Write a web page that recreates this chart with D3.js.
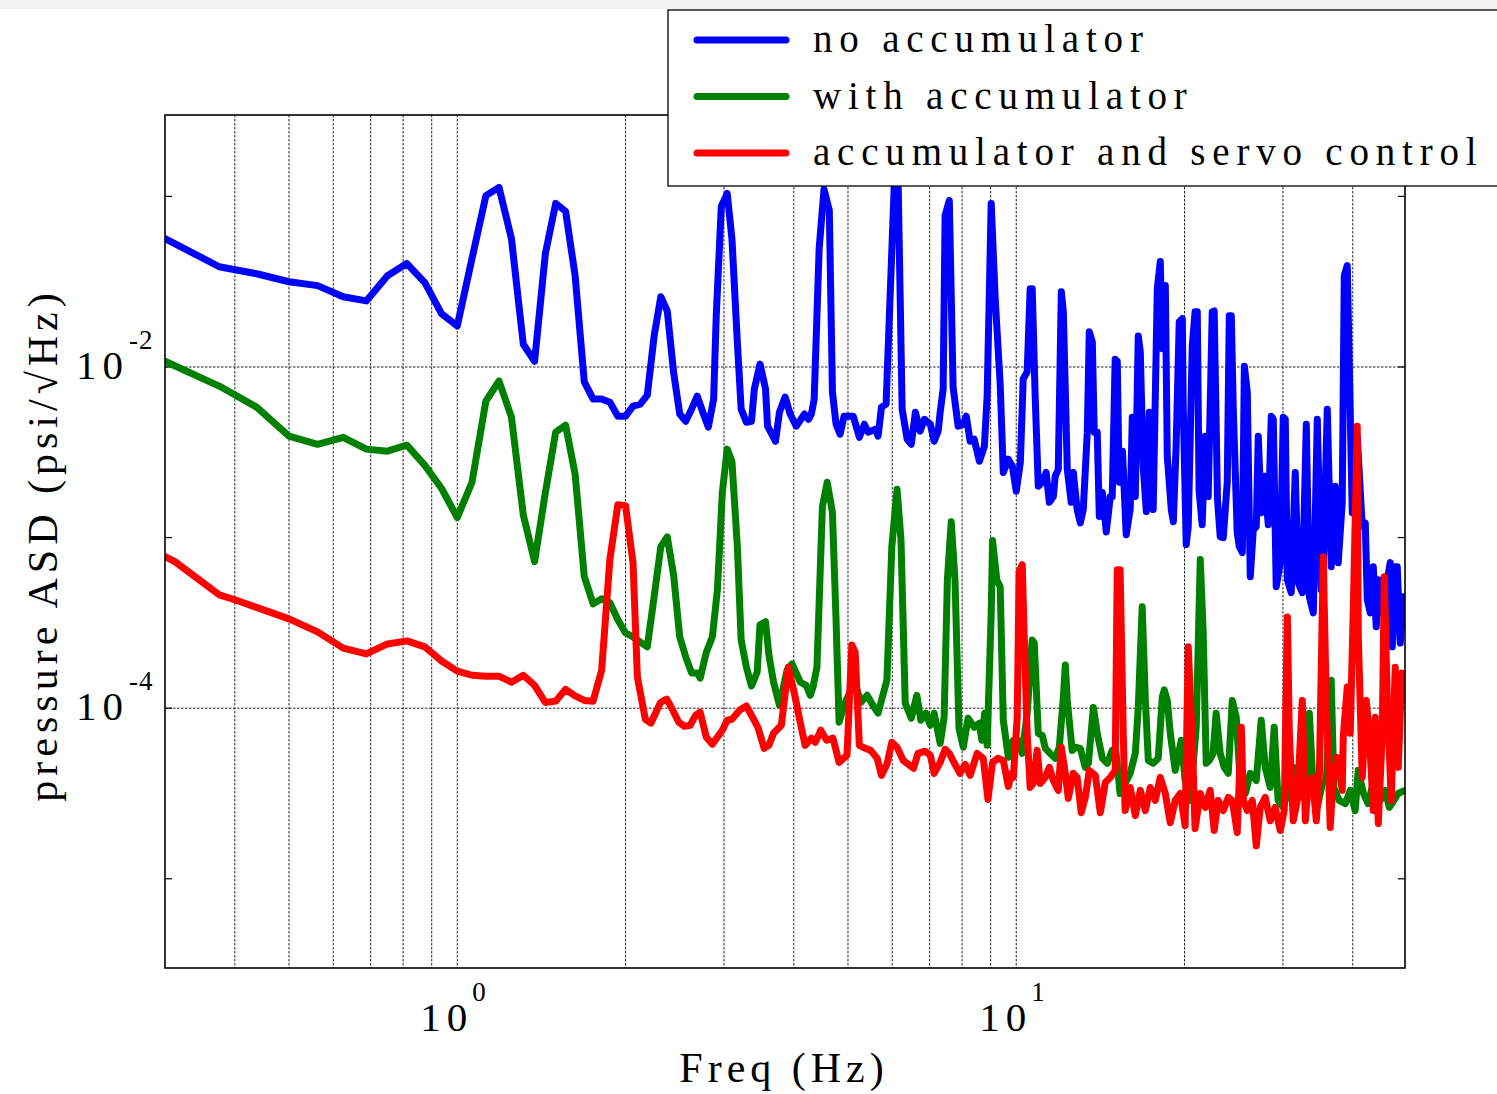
<!DOCTYPE html>
<html><head><meta charset="utf-8">
<script src="https://cdn.jsdelivr.net/npm/d3@7"></script>
<style>body{margin:0;background:#fff}svg{display:block}</style>
</head><body><svg id="c" width="1497" height="1094"></svg>
<script>
const seriesNames = ["no accumulator", "with accumulator", "accumulator and servo control"];
const seriesColors = ["#0000ff", "#008000", "#ff0000"];

const blueFreq = [
0.3,0.375,0.4375,0.5,0.5625,0.625,0.6875,0.75,0.8125,0.875,
0.9375,1.0,1.0625,1.125,1.1875,1.25,1.3125,1.375,1.4375,1.5,
1.5625,1.625,1.6875,1.75,1.8125,1.875,1.9375,2.0,2.0625,2.125,
2.1875,2.25,2.3125,2.375,2.4375,2.5,2.5625,2.625,2.6875,2.75,
2.8125,2.875,2.906,2.967,3.04,3.10,3.17,3.22,3.29,3.36,
3.40,3.48,3.56,3.59,3.71,3.77,3.86,3.94,4.04,4.18,
4.25,4.30,4.35,4.44,4.53,4.63,4.69,4.76,4.84,4.92,
5.11,5.24,5.35,5.43,5.60,5.66,5.74,5.85,5.93,6.05,
6.15,6.25,6.38,6.49,6.60,6.73,6.85,7.02,7.13,7.25,
7.31,7.40,7.46,7.59,7.71,7.87,8.04,8.14,8.27,8.41,
8.59,8.77,8.87,9.02,9.17,9.36,9.48,9.68,9.84,10.0,
10.17,10.29,10.46,10.59,10.68,10.81,10.95,11.13,11.31,11.46,
11.65,11.74,11.89,12.04,12.14,12.34,12.54,12.65,12.85,13.02,
13.18,13.40,13.51,13.68,13.79,13.96,14.08,14.26,14.49,14.73,
14.85,15.03,15.16,15.28,15.49,15.73,15.99,16.13,16.33,16.53,
16.67,16.87,17.09,17.30,17.58,17.88,18.10,18.25,18.48,18.63,
18.94,19.10,19.32,19.57,19.82,19.90,20.14,20.31,20.65,20.89,
21.08,21.24,21.51,21.78,22.05,22.42,22.60,22.91,23.17,23.46,
23.85,24.05,24.25,24.45,24.85,25.06,25.38,25.59,25.90,26.22,
26.55,26.88,27.10,27.43,27.78,28.24,28.59,28.83,29.18,29.67,
30.04,30.29,30.55,31.04,31.56,31.96,32.49,33.03,33.44,34.0,
34.56,35.13,35.42,36.01,36.60,37.21,37.67,38.30,38.62,39.10,
39.58,39.91,40.74,41.59,42.11,42.46,42.99,43.52,44.06,44.43,
45.17,46.11,46.68,47.07,47.64,48.04,48.64,49.23,49.6];
const blueAsd = [
0.0566,0.0387,0.0352,0.0316,0.0300,0.0258,0.0244,0.0343,0.0404,0.0312,
0.0205,0.0174,0.0432,0.101,0.113,0.0566,0.0136,0.0108,0.0462,0.091,
0.0817,0.0343,0.00817,0.00649,0.00649,0.00622,0.00515,0.00515,0.0059,0.00606,
0.00684,0.0152,0.0258,0.0213,0.00935,0.0053,0.00481,0.00566,0.00675,0.00543,
0.00444,0.00649,0.020,0.0873,0.104,0.0566,0.0140,0.00566,0.00474,0.00481,
0.00743,0.0104,0.00743,0.0045,0.00367,0.00543,0.00667,0.0053,0.0045,0.0053,
0.00494,0.0053,0.00649,0.0494,0.110,0.0828,0.00713,0.00462,0.00404,0.00515,
0.00515,0.00387,0.00462,0.00415,0.00432,0.00393,0.00582,0.00606,0.020,0.116,
0.113,0.00566,0.00377,0.00352,0.00543,0.00421,0.00494,0.00462,0.00367,0.00421,
0.00543,0.00743,0.0773,0.0947,0.00763,0.0045,0.00462,0.00515,0.00367,0.00377,
0.0028,0.00343,0.00675,0.091,0.0251,0.00794,0.00241,0.00288,0.00262,0.00187,
0.00276,0.0085,0.00935,0.0288,0.0288,0.00675,0.0020,0.00211,0.00241,0.00161,
0.00174,0.00229,0.00251,0.0276,0.0211,0.00251,0.00161,0.00241,0.00146,0.00122,
0.00146,0.00415,0.0161,0.0140,0.00415,0.00415,0.00133,0.00184,0.00108,0.00174,
0.00174,0.0111,0.0108,0.00211,0.00321,0.00104,0.00146,0.00508,0.00174,0.0152,
0.0122,0.00262,0.00142,0.00543,0.00146,0.0288,0.0415,0.0128,0.030,0.0030,
0.00146,0.00124,0.00343,0.0184,0.0192,0.00566,0.00091,0.00116,0.0133,0.0211,
0.0211,0.00187,0.00119,0.00393,0.00174,0.0211,0.0213,0.00167,0.00101,0.0010,
0.00211,0.020,0.020,0.00566,0.00107,0.000885,0.000817,0.0101,0.00713,0.00059,
0.00111,0.00116,0.00393,0.0014,0.00229,0.00119,0.00515,0.00494,0.000515,0.000713,
0.00508,0.00494,0.000566,0.000475,0.00241,0.000543,0.000475,0.00462,0.00045,0.000362,
0.00494,0.000494,0.000675,0.00566,0.000675,0.0020,0.000713,0.00161,0.0343,0.0393,
0.00543,0.0014,0.00393,0.00116,0.00122,0.000432,0.000362,0.000675,0.0003,0.000566,
0.000362,0.000566,0.000713,0.000229,0.000675,0.000675,0.000241,0.00045,0.000362];

const greenFreq = [
0.3,0.375,0.4375,0.5,0.5625,0.625,0.6875,0.75,0.8125,0.875,
0.9375,1.0,1.0625,1.125,1.1875,1.25,1.3125,1.375,1.4375,1.5,
1.5625,1.625,1.6875,1.75,1.8125,1.875,1.9375,2.0,2.0625,2.125,
2.1875,2.25,2.3125,2.375,2.4375,2.5,2.5625,2.625,2.6875,2.72,
2.79,2.86,2.92,2.98,3.04,3.10,3.17,3.22,3.29,3.36,
3.44,3.48,3.56,3.61,3.68,3.77,3.89,3.97,4.11,4.21,
4.28,4.33,4.40,4.50,4.59,4.69,4.76,4.82,4.92,5.04,
5.15,5.27,5.41,5.54,5.66,5.74,5.87,5.99,6.12,6.22,
6.33,6.49,6.64,6.75,6.89,7.02,7.13,7.31,7.43,7.53,
7.65,7.77,7.90,8.04,8.20,8.41,8.59,8.68,8.78,8.87,
9.02,9.07,9.23,9.36,9.48,9.68,9.88,10.08,10.25,10.46,
10.68,10.77,10.95,11.13,11.27,11.50,11.74,11.94,12.14,12.24,
12.34,12.59,12.80,13.02,13.29,13.46,13.74,13.96,14.26,14.55,
14.85,15.09,15.34,15.66,15.99,16.33,16.53,16.80,17.02,17.23,
17.58,17.95,18.25,18.40,18.63,18.86,19.25,19.74,20.05,20.47,
20.99,21.34,21.60,21.87,22.14,22.50,22.78,23.17,23.55,23.95,
24.35,24.75,25.17,25.70,26.22,26.88,27.43,27.89,28.47,28.94,
29.41,30.04,30.67,31.30,31.96,32.49,33.03,33.44,34.0,34.56,
35.28,35.86,36.60,37.0,37.8,38.8,39.58,40.4,40.9,41.8,
42.6,43.5,44.8,45.7,46.5,47.4,48.2,49.6];
const greenAsd = [
0.0108,0.00773,0.00582,0.00393,0.00352,0.00387,0.0033,0.00321,0.00348,0.00265,
0.00194,0.00131,0.00211,0.00631,0.00828,0.00508,0.00136,0.000723,0.00184,0.00415,
0.00456,0.00235,0.00059,0.000409,0.000438,0.000415,0.00033,0.000276,0.000262,0.000244,
0.000229,0.00045,0.000885,0.00101,0.000606,0.000262,0.0002,0.000161,0.000161,0.00015,
0.000213,0.000262,0.000494,0.00184,0.0033,0.0028,0.000885,0.000251,0.000174,0.000135,
0.000163,0.000308,0.000321,0.000205,0.000142,0.000104,0.000167,0.000182,0.000142,0.000136,
0.000119,0.000133,0.000174,0.00152,0.00211,0.0014,0.00033,0.0000828,0.000104,0.000124,
0.00014,0.000108,0.000119,0.000104,0.0000935,0.000111,0.000146,0.000885,0.00192,0.000973,
0.000107,0.0000873,0.000119,0.000085,0.0000935,0.0000794,0.0000935,0.0000622,0.0000885,0.000566,
0.00124,0.000566,0.0000762,0.000059,0.0000873,0.0000773,0.0000817,0.0000649,0.0000935,0.0000606,
0.000362,0.00096,0.000566,0.000515,0.000085,0.0000515,0.0000649,0.0000649,0.0000543,0.0000935,
0.000251,0.000241,0.0000713,0.0000694,0.0000582,0.0000543,0.0000508,0.000059,0.000116,0.000179,
0.000111,0.0000566,0.000059,0.0000582,0.000045,0.0000475,0.000101,0.0000713,0.0000508,0.0000475,
0.0000566,0.0000543,0.0000316,0.0000362,0.0000415,0.0000543,0.000101,0.000393,0.000111,0.0000494,
0.0000475,0.0000508,0.000116,0.000128,0.000111,0.0000713,0.0000432,0.0000649,0.0000377,0.0000288,
0.0000773,0.000743,0.000276,0.0000475,0.0000494,0.0000543,0.0000935,0.0000543,0.000045,0.0000415,
0.000111,0.0000885,0.0000362,0.0000316,0.0000415,0.0000377,0.000085,0.000045,0.0000343,0.0000773,
0.0000288,0.0000262,0.000033,0.000045,0.0000432,0.00003,0.0000393,0.0000935,0.000033,0.0000262,
0.0000362,0.0000377,0.000146,0.0000343,0.0000288,0.0000276,0.000033,0.0000251,0.0000432,0.0000316,
0.0000276,0.0000362,0.0000288,0.000033,0.0000262,0.0000288,0.0000316,0.000033];

const redFreq = [
0.3,0.3125,0.375,0.4,0.45,0.5,0.5625,0.625,0.6875,0.75,
0.8125,0.875,0.9375,1.0,1.0625,1.125,1.1875,1.25,1.3125,1.375,
1.4375,1.5,1.5625,1.625,1.6875,1.75,1.8125,1.875,1.9375,2.0,
2.0625,2.10,2.17,2.22,2.31,2.37,2.42,2.49,2.55,2.61,
2.67,2.72,2.79,2.86,2.98,3.04,3.10,3.20,3.29,3.36,
3.45,3.54,3.61,3.68,3.80,3.91,4.01,4.11,4.19,4.30,
4.37,4.47,4.58,4.70,4.82,4.98,5.08,5.15,5.24,5.37,
5.49,5.64,5.74,5.87,5.99,6.12,6.28,6.55,6.67,6.87,
7.02,7.13,7.31,7.46,7.59,7.77,7.93,8.10,8.27,8.51,
8.73,8.90,9.07,9.27,9.48,9.68,9.80,9.88,10.04,10.12,
10.25,10.33,10.46,10.59,10.72,10.90,11.04,11.27,11.46,11.65,
11.89,12.04,12.24,12.39,12.65,12.85,13.07,13.29,13.51,13.85,
14.14,14.43,14.73,15.03,15.16,15.34,15.54,15.66,15.99,16.33,
16.67,17.02,17.37,17.73,18.10,18.48,18.86,19.25,19.65,20.05,
20.31,20.65,20.89,21.34,21.78,22.23,22.60,22.97,23.46,23.95,
24.35,24.85,25.27,25.49,25.90,26.44,26.88,27.32,27.89,28.47,
29.06,29.67,30.16,30.55,30.80,31.30,31.83,32.49,32.90,33.30,
33.86,34.42,34.85,35.42,35.86,36.45,36.90,37.52,38.30,38.46,
39.10,39.58,40.08,40.74,40.91,41.59,42.28,42.81,43.52,43.88,
44.43,45.17,45.54,46.11,46.86,47.64,48.24,48.96,49.6];
const redAsd = [
0.000773,0.000723,0.000462,0.000432,0.000377,0.000334,0.00028,0.000225,0.000208,0.000238,
0.000248,0.000229,0.000189,0.000165,0.000156,0.000154,0.000154,0.000142,0.000156,0.000136,
0.000108,0.00011,0.000129,0.000118,0.000111,0.00011,0.000167,0.000743,0.00156,0.00154,
0.000713,0.000152,0.0000861,0.0000817,0.000108,0.000113,0.0001,0.0000828,0.0000783,0.0000794,
0.000091,0.0000947,0.0000675,0.0000614,0.0000743,0.000085,0.0000861,0.0000973,0.000103,0.000091,
0.0000773,0.0000582,0.0000606,0.0000713,0.0000794,0.000174,0.000122,0.0000817,0.0000606,0.0000667,
0.0000631,0.0000743,0.0000649,0.0000667,0.0000481,0.000053,0.000235,0.000213,0.0000606,0.0000582,
0.0000566,0.0000508,0.0000404,0.0000469,0.0000631,0.000059,0.0000494,0.0000444,0.0000543,0.000056,
0.000053,0.0000415,0.0000481,0.0000574,0.0000543,0.0000469,0.0000415,0.0000469,0.0000404,0.0000543,
0.0000508,0.0000292,0.0000481,0.0000508,0.0000494,0.0000348,0.0000415,0.0000393,0.0000885,0.000631,
0.000694,0.000276,0.0000713,0.0000343,0.0000362,0.0000566,0.0000362,0.0000393,0.000045,0.0000377,
0.000033,0.000059,0.0000415,0.0000296,0.0000415,0.0000393,0.0000244,0.00003,0.0000432,0.0000404,
0.0000244,0.0000367,0.0000393,0.0000432,0.000649,0.000649,0.0000713,0.0000251,0.0000343,0.0000235,
0.000033,0.0000251,0.0000343,0.0000288,0.0000393,0.0000316,0.0000213,0.0000288,0.0000316,0.0000205,
0.000229,0.0000649,0.0000197,0.0000316,0.0000262,0.000033,0.0000192,0.0000288,0.0000251,0.00003,
0.0000288,0.0000187,0.0000773,0.0000288,0.0000251,0.0000288,0.0000156,0.0000262,0.00003,0.0000219,
0.0000262,0.0000192,0.0000251,0.000343,0.0000713,0.0000219,0.0000288,0.000111,0.0000219,0.0000362,
0.0000393,0.0000219,0.0000393,0.000773,0.000111,0.00002,0.0000393,0.0000515,0.000033,0.0000675,
0.000133,0.0000713,0.000377,0.0045,0.000276,0.0000393,0.000111,0.0000713,0.0000251,0.0000885,
0.0000211,0.0000713,0.00059,0.000111,0.0000288,0.000174,0.000045,0.000161,0.000111];

const xGridValues = [0.4,0.5,0.6,0.7,0.8,0.9,1,2,3,4,5,6,7,8,9,10,20,30,40];
const xLabelValues = [1, 10];
const yGridValues = [1e-2, 1e-4];
const yTickValues = [1e-1, 1e-2, 1e-3, 1e-4, 1e-5];
const xTitle = "Freq (Hz)";
const yTitle = "pressure ASD (psi/\u221AHz)";

const W = 1497, H = 1094;
const P = {l:165, t:115, r:1405, b:968};
const FONT = "'Liberation Serif','Times New Roman',serif";
const x = d3.scaleLog().domain([0.3, 49.6]).range([P.l, P.r]);
const y = d3.scaleLog().domain([3e-6, 0.3]).range([P.b, P.t]);

const svg = d3.select('#c');
svg.append('rect').attr('width', W).attr('height', H).attr('fill', '#fff');
svg.append('rect').attr('x', 0).attr('y', 0).attr('width', W).attr('height', 9).attr('fill', '#f2f2f2');

svg.append('defs').append('clipPath').attr('id', 'clip')
  .append('rect').attr('x', P.l).attr('y', P.t).attr('width', P.r - P.l).attr('height', P.b - P.t);

const grid = svg.append('g');
grid.selectAll('line.vx').data(xGridValues).enter().append('line')
  .attr('x1', d => x(d)).attr('x2', d => x(d)).attr('y1', P.t).attr('y2', P.b)
  .attr('stroke', '#222').attr('stroke-width', 1).attr('stroke-dasharray', '2.5,1.5');
grid.selectAll('line.hy').data(yGridValues).enter().append('line')
  .attr('x1', P.l).attr('x2', P.r).attr('y1', d => y(d)).attr('y2', d => y(d))
  .attr('stroke', '#222').attr('stroke-width', 1).attr('stroke-dasharray', '2.5,1.5');

const ticks = svg.append('g').attr('stroke', '#000').attr('stroke-width', 1.2);
yTickValues.forEach(v => {
  ticks.append('line').attr('x1', P.l).attr('x2', P.l + 7).attr('y1', y(v)).attr('y2', y(v));
  ticks.append('line').attr('x1', P.r - 7).attr('x2', P.r).attr('y1', y(v)).attr('y2', y(v));
});

const series = [
  {f: blueFreq, v: blueAsd},
  {f: greenFreq, v: greenAsd},
  {f: redFreq, v: redAsd}
];
const line = d3.line().x(d => x(d[0])).y(d => y(d[1]));
const plot = svg.append('g').attr('clip-path', 'url(#clip)');
series.forEach((s, i) => {
  const pts = s.f.map((f, k) => [f, s.v[k]]);
  plot.append('path').datum(pts).attr('d', line)
    .attr('fill', 'none').attr('stroke', seriesColors[i]).attr('stroke-width', 7)
    .attr('stroke-linejoin', 'round').attr('stroke-linecap', 'round');
});

svg.append('rect').attr('x', P.l).attr('y', P.t).attr('width', P.r - P.l).attr('height', P.b - P.t)
  .attr('fill', 'none').attr('stroke', '#000').attr('stroke-width', 1.6);

yGridValues.forEach(v => {
  const e = Math.round(Math.log10(v));
  svg.append('text').attr('x', 76).attr('y', y(v) + 12).attr('font-family', FONT)
    .attr('font-size', 41).attr('letter-spacing', 6).attr('fill', '#000').text('10');
  svg.append('text').attr('x', 129).attr('y', y(v) - 18).attr('font-family', FONT)
    .attr('font-size', 27).attr('letter-spacing', 1).attr('fill', '#000').text(String(e));
});
xLabelValues.forEach(v => {
  const e = Math.round(Math.log10(v));
  svg.append('text').attr('x', x(v) - 37).attr('y', 1031).attr('font-family', FONT)
    .attr('font-size', 41).attr('letter-spacing', 6).attr('fill', '#000').text('10');
  svg.append('text').attr('x', x(v) + 15).attr('y', 1001).attr('font-family', FONT)
    .attr('font-size', 27).attr('fill', '#000').text(String(e));
});

svg.append('text').attr('x', 784).attr('y', 1082).attr('text-anchor', 'middle')
  .attr('font-family', FONT).attr('font-size', 42).attr('letter-spacing', 5).text(xTitle);
svg.append('text').attr('transform', 'translate(57,545) rotate(-90)').attr('text-anchor', 'middle')
  .attr('font-family', FONT).attr('font-size', 42).attr('letter-spacing', 5).text(yTitle);

const lg = svg.append('g');
lg.append('rect').attr('x', 668).attr('y', 10).attr('width', 860).attr('height', 176)
  .attr('fill', '#fff').attr('stroke', '#000').attr('stroke-width', 1.3);
seriesNames.forEach((name, i) => {
  const yy = 40 + i * 56.5;
  lg.append('line').attr('x1', 697).attr('x2', 786).attr('y1', yy).attr('y2', yy)
    .attr('stroke', seriesColors[i]).attr('stroke-width', 7).attr('stroke-linecap', 'round');
  lg.append('text').attr('x', 813).attr('y', yy + 12).attr('font-family', FONT)
    .attr('font-size', 39).attr('letter-spacing', 6.8).attr('fill', '#000').text(name);
});
</script></body></html>
